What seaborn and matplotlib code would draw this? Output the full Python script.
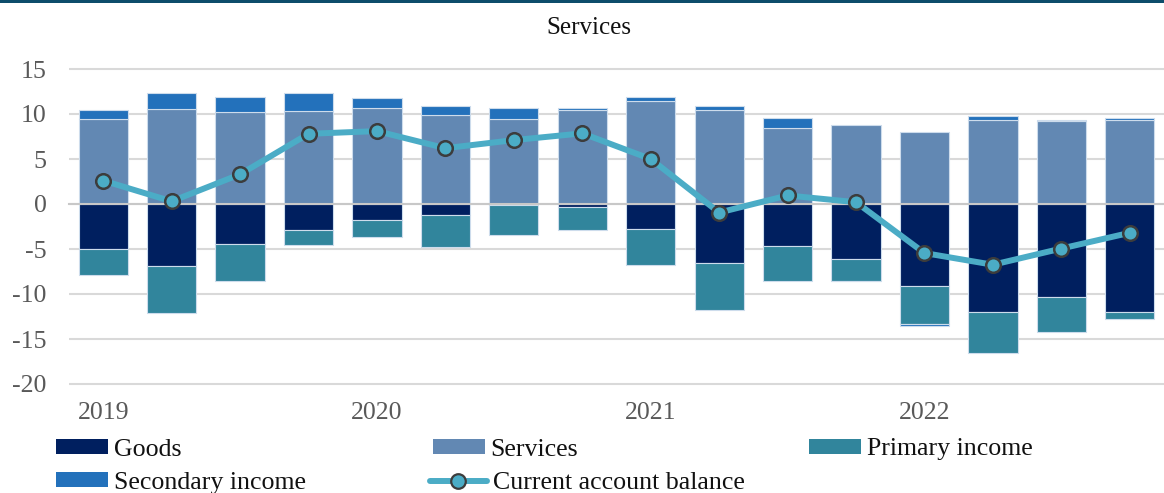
import numpy as np
import pandas as pd
import matplotlib
matplotlib.use("Agg")
import matplotlib.pyplot as plt
from matplotlib.patches import Patch, Rectangle
from matplotlib.lines import Line2D
import seaborn as sns

# Quarterly balance-of-payments components (% of GDP)
quarters = ["2019Q1", "2019Q2", "2019Q3", "2019Q4",
            "2020Q1", "2020Q2", "2020Q3", "2020Q4",
            "2021Q1", "2021Q2", "2021Q3", "2021Q4",
            "2022Q1", "2022Q2", "2022Q3", "2022Q4"]
goods = [-5.0, -6.9, -4.4, -2.9, -1.8, -1.2, -0.1, -0.3,
         -2.8, -6.55, -4.7, -6.15, -9.15, -12.05, -10.35, -12.05]
services = [9.4, 10.55, 10.2, 10.3, 10.7, 9.9, 9.45, 10.5,
            11.5, 10.45, 8.5, 8.8, 8.05, 9.35, 9.2, 9.35]
primary_income = [-2.9, -5.2, -4.2, -1.6, -1.9, -3.6, -3.35, -2.55,
                  -4.0, -5.2, -3.85, -2.35, -4.2, -4.45, -3.9, -0.7]
secondary_income = [1.1, 1.8, 1.7, 2.0, 1.1, 1.0, 1.2, 0.2,
                    0.35, 0.4, 1.05, -0.1, -0.15, 0.45, 0.1, 0.2]
current_account = [2.6, 0.3, 3.3, 7.8, 8.1, 6.2, 7.1, 7.85,
                   5.0, -0.95, 0.95, 0.2, -5.45, -6.75, -4.95, -3.2]
year_labels = ["2019", "2020", "2021", "2022"]
year_start_quarters = ["2019Q1", "2020Q1", "2021Q1", "2022Q1"]

df = pd.DataFrame({
    "quarter": quarters,
    "goods": goods,
    "services": services,
    "primary": primary_income,
    "secondary": secondary_income,
    "balance": current_account,
})

# Stacking bases: positives build up from zero, negatives build down
neg_base = df["goods"] + df["primary"]
sec_bottom = np.where(df["secondary"] >= 0, df["services"], neg_base)

C_GOODS = "#001f5f"
C_SERV = "#6288b3"
C_PRIM = "#31859c"
C_SEC = "#2371bb"
C_LINE = "#4bacc6"
EDGE = "#cddcec"
FS = 18.6

sns.set_style("white")
plt.rcParams["font.family"] = ["Liberation Serif", "DejaVu Serif"]
plt.rcParams["axes.unicode_minus"] = False

W, H = 1164, 493
fig = plt.figure(figsize=(W / 100, H / 100), dpi=100)
ax = fig.add_axes([69 / W, (H - 386.7) / H, (W - 69) / W, 320.4 / H])

bar_kw = dict(width=0.72, edgecolor=EDGE, linewidth=0.8, saturation=1,
              errorbar=None, ax=ax)
sns.barplot(data=df, x="quarter", y="services", color=C_SERV, **bar_kw)
sns.barplot(data=df, x="quarter", y="goods", color=C_GOODS, **bar_kw)
sns.barplot(data=df, x="quarter", y="primary", color=C_PRIM,
            bottom=df["goods"].to_numpy(), **bar_kw)
sns.barplot(data=df, x="quarter", y="secondary", color=C_SEC,
            bottom=sec_bottom, **bar_kw)

sns.lineplot(data=df, x="quarter", y="balance", ax=ax, color=C_LINE,
             linewidth=4.3, marker="o", markersize=10.5,
             markerfacecolor=C_LINE, markeredgecolor="#3c3c3c",
             markeredgewidth=1.8, zorder=4, sort=False)

# Horizontal gridlines behind the bars
yticks = np.arange(-20, 16, 5)
for yv in yticks:
    ax.axhline(yv, color="#d9d9d9", linewidth=1.5, zorder=0.5)

ax.set_xlim(-0.5, 15.35)
ax.set_ylim(-20.3, 15.3)
ax.set_yticks(yticks)
ax.set_xticks(np.arange(-0.5, 15.6, 0.5))
ax.set_xticklabels([])
ax.set_xlabel("")
ax.set_ylabel("")

for side in ("top", "right", "left"):
    ax.spines[side].set_visible(False)
ax.spines["bottom"].set_position(("data", 0))
ax.spines["bottom"].set_color("#c8c8c8")
ax.spines["bottom"].set_linewidth(1.5)

ax.tick_params(axis="x", length=5, width=1.3, color="#c0c0c0",
               direction="out", labelbottom=False)
ax.tick_params(axis="y", length=0, pad=16, labelsize=FS,
               labelcolor="#595959")

# Year labels under the first quarter of each year
for lbl, q in zip(year_labels, year_start_quarters):
    ax.text(quarters.index(q), -0.082, lbl, transform=ax.get_xaxis_transform(),
            ha="center", va="center", fontsize=FS, color="#595959")

fig.text(589 / W, 1 - 28 / H, "Services", ha="center", va="center",
         fontsize=18, color="#111111")

# Thin header band across the top
fig.add_artist(Rectangle((0, 1 - 3 / H), 1, 3 / H, transform=fig.transFigure,
                         facecolor="#0d4d6b", edgecolor="none"))

# Legend entries placed individually beneath the plot
entries = [
    (Patch(facecolor=C_GOODS, edgecolor="none"), "Goods", 56, 449.5),
    (Patch(facecolor=C_SEC, edgecolor="none"), "Secondary income", 56, 483),
    (Patch(facecolor=C_SERV, edgecolor="none"), "Services", 433, 449.5),
    (Line2D([], [], color=C_LINE, linewidth=4.3, marker="o", markersize=10.5,
            markerfacecolor=C_LINE, markeredgecolor="#3c3c3c",
            markeredgewidth=1.6), "Current account balance", 430, 483),
    (Patch(facecolor=C_PRIM, edgecolor="none"), "Primary income", 809, 449.5),
]
for handle, label, px, py in entries:
    is_line = isinstance(handle, Line2D)
    leg = fig.legend([handle], [label], loc="center left",
                     bbox_to_anchor=(px / W, 1 - py / H), frameon=False,
                     borderpad=0, borderaxespad=0,
                     handlelength=2.2 if is_line else 2.01,
                     handleheight=0.5, handletextpad=0.22, fontsize=FS)
    for t in leg.get_texts():
        t.set_color("#111111")

fig.savefig("out.png", dpi=100)
